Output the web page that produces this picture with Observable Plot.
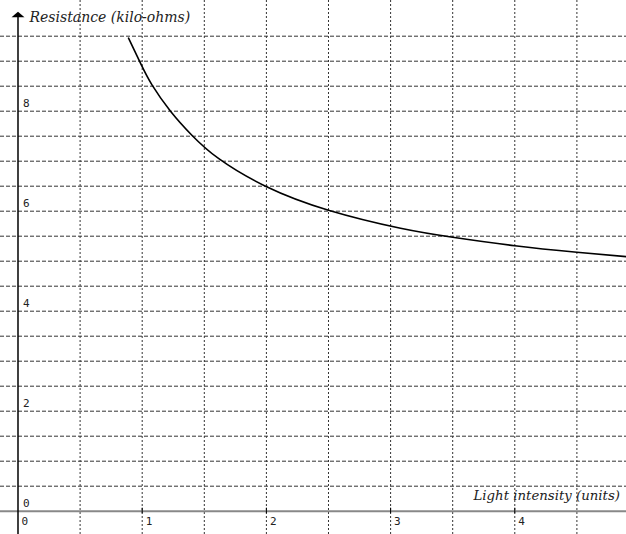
<!DOCTYPE html>
<html>
<head>
<meta charset="utf-8">
<script src="https://cdn.jsdelivr.net/npm/d3@7"></script>
<script src="https://cdn.jsdelivr.net/npm/@observablehq/plot@0.6"></script>
<style>
  html, body { margin: 0; padding: 0; background: #fff; overflow: hidden; }
  svg { display: block; }
</style>
</head>
<body>
<div id="chart"></div>
<script>
// Data
const lightIntensity = [0.89, 0.986, 1.08, 1.228, 1.40, 1.617, 1.993, 2.50, 3.08, 3.5, 4.0, 4.5, 4.9];
const resistance     = [9.46, 8.96,  8.52, 8.0,   7.52, 7.05,  6.50,  6.02, 5.66, 5.48, 5.31, 5.18, 5.09];
const xTicks = [0, 1, 2, 3, 4];
const yTicks = [0, 2, 4, 6, 8];
const xGrid = [0.5, 1, 1.5, 2, 2.5, 3, 3.5, 4, 4.5];
const yGrid = [0.5, 1, 1.5, 2, 2.5, 3, 3.5, 4, 4.5, 5, 5.5, 6, 6.5, 7, 7.5, 8, 8.5, 9, 9.5];
const xTitle = "Light intensity (units)";
const yTitle = "Resistance (kilo-ohms)";

const curve = lightIntensity.map((x, i) => ({x, y: resistance[i]}));

// wide flat arrowhead symbol
const arrowHead = {
  draw(context, size) {
    context.moveTo(0, -3);
    context.lineTo(6.5, 2.5);
    context.lineTo(-6.5, 2.5);
    context.closePath();
  }
};

const serif = "'DejaVu Serif', serif";
const mono = "'DejaVu Sans Mono', monospace";

const chart = Plot.plot({
  width: 626,
  height: 534,
  marginTop: 0, marginRight: 0, marginBottom: 0, marginLeft: 0,
  x: {domain: [-0.1409, 4.8994], axis: null},
  y: {domain: [-0.466, 10.214], axis: null},
  style: {background: "#fff"},
  marks: [
    Plot.ruleX(xGrid, {stroke: "#333", strokeWidth: 1, strokeDasharray: "2,2"}),
    Plot.ruleY(yGrid, {stroke: "#333", strokeWidth: 1, strokeDasharray: "4,2"}),
    Plot.ruleY([0], {stroke: "#888", strokeWidth: 2}),
    Plot.ruleX([0], {y1: -0.466, y2: 9.95, stroke: "#000", strokeWidth: 1.5}),
    Plot.dot([0], {x: d => d, y: () => 9.93, symbol: arrowHead, fill: "#000", stroke: "none", r: 4}),
    Plot.ruleX(xTicks.slice(1), {y1: -0.05, y2: 0.06, stroke: "#000", strokeWidth: 1}),
    Plot.text(xTicks, {x: d => d, y: () => 0, text: d => String(d), textAnchor: "start", dx: 3.5, dy: 10.5, fontFamily: mono, fontSize: 11, fill: "#222"}),
    Plot.text(yTicks, {x: () => 0, y: d => d, text: d => String(d), textAnchor: "start", dx: 5, dy: -8, fontFamily: mono, fontSize: 11, fill: "#222"}),
    Plot.line(curve, {x: "x", y: "y", curve: "natural", stroke: "#000", strokeWidth: 1.6}),
    Plot.text([yTitle], {frameAnchor: "top-left", lineAnchor: "middle", dx: 29, dy: 17, textAnchor: "start", fontFamily: serif, fontStyle: "italic", fontSize: 14, fill: "#222"}),
    Plot.text([xTitle], {frameAnchor: "bottom-left", lineAnchor: "middle", dx: 473, dy: -38.5, textAnchor: "start", fontFamily: serif, fontStyle: "italic", fontSize: 13.3, fill: "#222"})
  ]
});
document.getElementById("chart").appendChild(chart);
</script>
</body>
</html>
